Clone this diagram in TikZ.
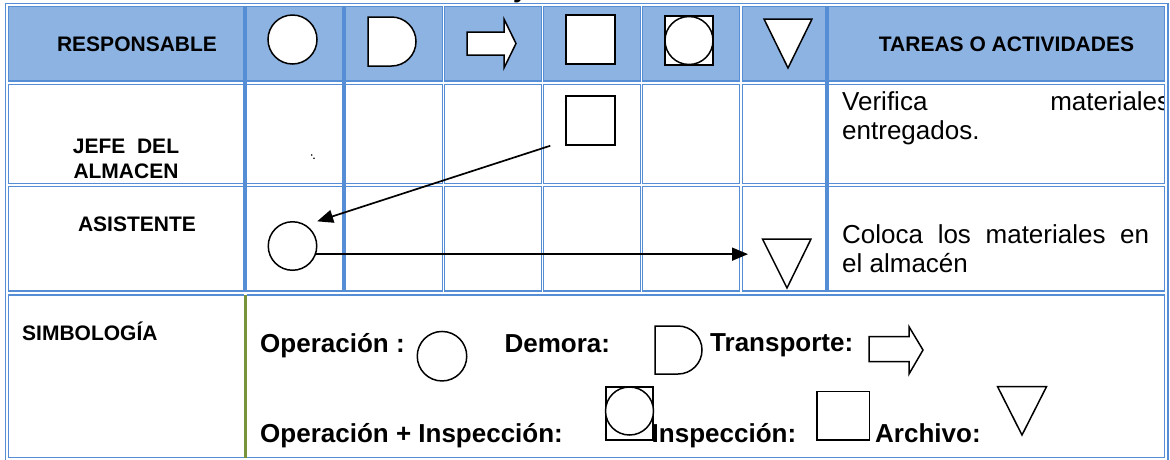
\documentclass[tikz,border=0pt]{standalone}
\usepackage{fontspec}
\setmainfont{Liberation Sans}
\usetikzlibrary{arrows.meta}
\definecolor{tblue}{HTML}{558ED5}
\definecolor{hfill}{HTML}{8DB3E2}
\definecolor{olivegreen}{HTML}{77933C}
\begin{document}
\begin{tikzpicture}[x=1pt,y=-1pt,
  cellb/.style={draw=tblue,line width=1.3pt},
  thickb/.style={draw=tblue,line width=4.2pt},
  sym/.style={draw=black,line width=1.5pt,fill=white,inner sep=0pt},
  hdr/.style={font=\fontsize{21}{25}\selectfont\bfseries,inner sep=0pt},
  body/.style={font=\fontsize{26}{30}\selectfont,inner sep=0pt},
  leg/.style={font=\fontsize{26}{30}\selectfont\bfseries,inner sep=0pt},
  conn/.style={draw=black,line width=1.7pt,-{Triangle[length=16pt,width=13pt]}},
  ]
\useasboundingbox (0,0) rectangle (1170,459);
% ---------- table ----------
\foreach \l/\r in {8.7/243.8, 246.8/342.5, 345.8/442.3, 444.7/541.5, 543.7/640.5, 642.8/739.8, 742.2/826, 828.3/1164.8}{
  \draw[cellb,fill=hfill] (\l,6.7) rectangle (\r,81);
  \draw[cellb] (\l,84.3) rectangle (\r,183.5);
  \draw[cellb] (\l,186.7) rectangle (\r,291);
}
\draw[thickb] (245.3,6) -- (245.3,291.6);
\draw[thickb] (344.2,6) -- (344.2,291.6);
\draw[thickb] (827.2,6) -- (827.2,291.6);
\draw[cellb] (243.8,295) -- (8.7,295) -- (8.7,457.7) -- (243.8,457.7);
\draw[cellb] (246.5,295) -- (1164.8,295) -- (1164.8,457.7) -- (246.5,457.7);
\draw[olivegreen,line width=3pt] (245,295) -- (245,457.7);
\draw[tblue,line width=1.6pt] (5.3,3.5) rectangle (1167.7,462);
% cut title remnant
\node[leg,anchor=base west] (ttl) at (513,-2.8) {y};
% ---------- header ----------
\node[hdr,anchor=base] (hresp) at (137,51.7) {RESPONSABLE};
\node[hdr,anchor=base] (htar) at (1006.5,51.7) {TAREAS O ACTIVIDADES};
\node[sym,circle,minimum size=49pt] (hop) at (292.5,39.5) {};
\draw[sym] (368,17) -- (391.5,17) .. controls (405.03,17) and (416,27.97) .. (416,41.5)
  .. controls (416,55.03) and (405.03,66) .. (391.5,66) -- (368,66) -- cycle;
\draw[sym] (467,32) -- (504,32) -- (504,19) -- (516,43.5) -- (504,68) -- (504,55) -- (467,55) -- cycle;
\node[sym,rectangle,minimum size=49pt] (hins) at (590.5,39.5) {};
\node[sym,rectangle,minimum width=48pt,minimum height=49pt] (hoi) at (689,40.5) {};
\node[sym,circle,minimum size=48pt] (hoic) at (689,40.5) {};
\draw[sym] (764,19) -- (812,19) -- (788,68) -- cycle;
% ---------- row 2 ----------
\node[hdr,anchor=base] (jefe1) at (126,153) {JEFE~~DEL};
\node[hdr,anchor=base] (jefe2) at (126,178) {ALMACEN};
\fill (311.7,155) circle[radius=0.9];
\fill (314,158.3) circle[radius=0.9];
\node[sym,rectangle,minimum size=49pt] (sq2) at (590.5,120.5) {};
\begin{scope}
  \clip (829,85) rectangle (1163.5,183);
  \node[body,anchor=base west] (t1a) at (842,110) {\makebox[328pt][s]{Verifica materiales}};
\end{scope}
\node[body,anchor=base west] (t1b) at (842,139) {entregados.};
% ---------- row 3 ----------
\node[hdr,anchor=base] (asis) at (137,231.7) {ASISTENTE};
\node[sym,circle,minimum size=48.5pt] (op3) at (292.5,246) {};
\draw[sym] (762.5,239) -- (811,239) -- (787,288) -- cycle;
\coordinate (t3end) at (748,254);
\node[body,anchor=base west] (t2a) at (842,243.3) {\makebox[307pt][s]{Coloca los materiales en}};
\node[body,anchor=base west] (t2b) at (842,272.7) {el almacén};
% connectors
\draw[conn] ([xshift=-15pt]sq2.south west) -- ([shift={(7pt,7pt)}]op3.north east);
\draw[conn] (op3.-19) -- (op3.-19 -| t3end);
% ---------- legend ----------
\node[hdr,anchor=base west] (simb) at (22,340) {SIMBOLOGÍA};
\node[leg,anchor=base west] (lop) at (260,352) {Operación :};
\node[sym,circle,minimum size=49.5pt] (lopc) at (442,356.2) {};
\node[leg,anchor=base west] (ldem) at (504.4,352) {Demora:};
\draw[sym] (655,326) -- (678,326) .. controls (691.25,326) and (702,336.75) .. (702,350)
  .. controls (702,363.25) and (691.25,374) .. (678,374) -- (655,374) -- cycle;
\node[leg,anchor=base west] (ltra) at (710,351) {Transporte:};
\draw[sym] (869,336.7) -- (909,336.7) -- (909,326.7) -- (923,350) -- (909,374) -- (909,361.7) -- (869,361.7) -- cycle;
\node[leg,anchor=base west] (lopi) at (260,442) {Operación + Inspección:};
\node[sym,rectangle,minimum width=47pt,minimum height=53pt] (loisq) at (629.5,413.5) {};
\node[sym,circle,minimum size=48pt] (loic) at (629.5,411) {};
\node[leg,anchor=base west] (lins) at (651.5,442) {Inspección:};
\node[sym,rectangle,minimum width=52.7pt,minimum height=48.3pt] (linsq) at (843.35,415.85) {};
\node[leg,anchor=base west] (larc) at (875,442) {Archivo:};
\draw[sym] (997.6,386.7) -- (1046.5,386.7) -- (1022,435) -- cycle;
\end{tikzpicture}
\end{document}
